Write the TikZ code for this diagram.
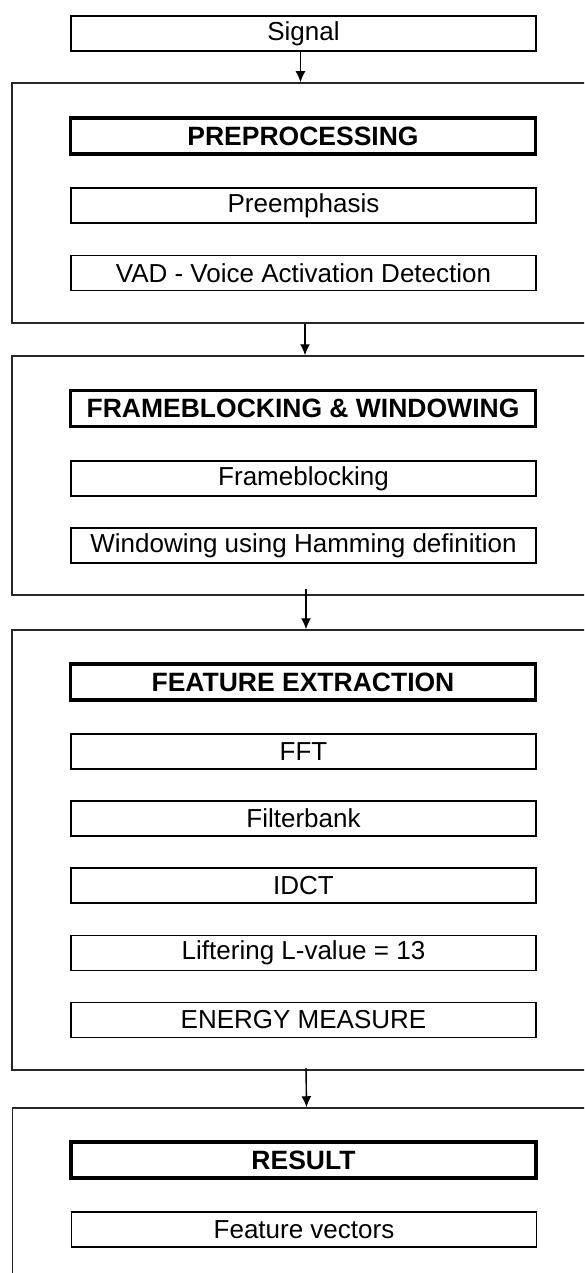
\documentclass[tikz,border=0pt]{standalone}
\usepackage{fontspec}
\setmainfont{Liberation Sans}
\usetikzlibrary{arrows.meta}
\tikzset{
  x=1pt,y=-1pt,
  outerbox/.style={draw=black!85,line width=1.5pt,minimum width=588pt,inner sep=0pt},
  stepbox/.style={draw=black,line width=1.4pt,minimum width=465pt,minimum height=35pt,inner sep=0pt,font=\fontsize{26}{29}\selectfont},
  headbox/.style={draw=black,line width=3.2pt,minimum width=465pt,minimum height=36pt,inner sep=0pt,font=\fontsize{26.5}{29}\selectfont\bfseries},
  arr/.style={line width=1.4pt,-{Latex[length=11pt,width=10pt]}}
}
\begin{document}
\begin{tikzpicture}
\useasboundingbox (0,0) rectangle (584,1273);
\clip (0,0) rectangle (584,1273);
\fill[white] (0,0) rectangle (584,1273);
% outer groups
\node[outerbox,minimum height=240pt] (g1) at (306,203) {};
\node[outerbox,minimum height=239pt] (g2) at (306,475.5) {};
\node[outerbox,minimum height=440pt] (g3) at (306,850) {};
\node[outerbox,minimum height=240pt] (g4) at (306.5,1228) {};
% inner boxes
\node[stepbox] (signal) at (303.5,33.5) {Signal};
\node[headbox] (pre) at (303,136) {PREPROCESSING};
\node[stepbox] (preemph) at (303.5,205.5) {Preemphasis};
\node[stepbox] (vad) at (303.5,273) {VAD - Voice Activation Detection};
\node[headbox] (frw) at (303,408.5) {FRAMEBLOCKING \& WINDOWING};
\node[stepbox] (fb) at (303.5,478.5) {Frameblocking};
\node[stepbox] (win) at (303.5,545.5) {Windowing using Hamming definition};
\node[headbox] (fe) at (303,682) {FEATURE EXTRACTION};
\node[stepbox] (fft) at (303.5,751.5) {FFT};
\node[stepbox] (filt) at (303.5,818.5) {Filterbank};
\node[stepbox] (idct) at (303.5,885.5) {IDCT};
\node[stepbox] (lift) at (303.5,953) {Liftering L-value = 13};
\node[stepbox] (energy) at (303.5,1020) {ENERGY MEASURE};
\node[headbox] (res) at (303.5,1160) {RESULT};
\node[stepbox] (fv) at (304,1229.5) {Feature vectors};
% connectors
\draw[arr] ([xshift=-3pt]signal.south) -- ([xshift=-3pt]signal.south |- g1.north);
\draw[arr] ([xshift=-1pt]g1.south) -- ([xshift=-1pt]g2.north);
\draw[arr] ([yshift=7pt]g2.south) -- (g3.north);
\draw[arr] ([yshift=3pt]g3.south) -- (g4.north);
\end{tikzpicture}
\end{document}
